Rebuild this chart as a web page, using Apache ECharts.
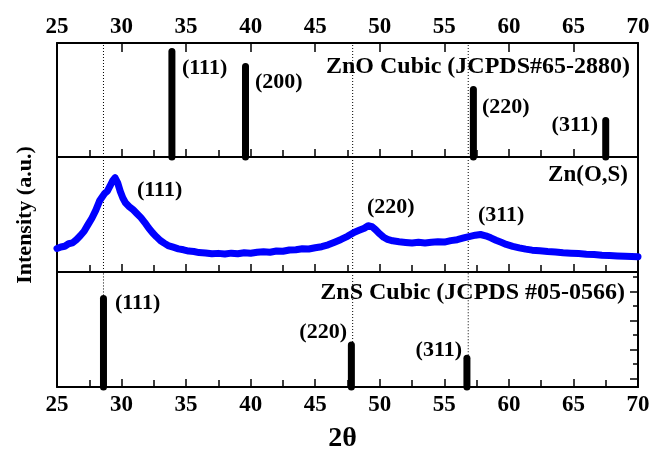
<!DOCTYPE html>
<html><head><meta charset="utf-8">
<script src="https://cdn.jsdelivr.net/npm/echarts/dist/echarts.min.js"></script>
<style>html,body{margin:0;padding:0;background:#fff}#c{width:653px;height:455px}</style>
</head><body><div id="c"></div>
<script>
// ---- data ----
const xMin = 25, xMax = 70, xStep = 5;
const znoPos = [33.9, 39.6, 57.25, 67.5];
const znoInt = [92.5, 79.4, 59.2, 32];
const znoHkl = ['(111)', '(200)', '(220)', '(311)'];
const znoTitle = 'ZnO Cubic (JCPDS#65-2880)';
const znsPos = [28.6, 47.8, 56.75];
const znsInt = [77, 36.5, 25];
const znsHkl = ['(111)', '(220)', '(311)'];
const znsTitle = 'ZnS Cubic (JCPDS #05-0566)';
const refLines = [28.6, 47.9, 56.85];
const sampleTitle = 'Zn(O,S)';
const sampleHkl = ['(111)', '(220)', '(311)'];
const theta = [25.0,25.3,25.6,25.9,26.2,26.5,26.8,27.1,27.4,27.7,28.0,28.3,28.5,28.7,28.9,29.1,29.3,29.5,29.7,29.9,30.1,30.3,30.6,30.9,31.2,31.5,31.8,32.1,32.4,32.7,33.0,33.3,33.6,34.0,34.4,34.8,35.2,35.6,36.0,36.5,37.0,37.5,38.0,38.5,39.0,39.5,40.0,40.5,41.0,41.5,42.0,42.5,43.0,43.5,44.0,44.5,45.0,45.5,46.0,46.5,47.0,47.5,48.0,48.4,48.8,49.1,49.4,49.7,50.0,50.3,50.6,51.0,51.5,52.0,52.5,53.0,53.5,54.0,54.5,55.0,55.5,56.0,56.5,57.0,57.4,57.8,58.2,58.6,59.0,59.4,59.8,60.3,60.8,61.3,61.8,62.4,63.0,63.6,64.2,64.8,65.4,66.0,66.6,67.2,67.8,68.4,69.0,69.5,70.0];
const intensity = [20.5,21.8,22.4,24.6,25.3,28.1,31.5,35.4,41.2,46.8,53.6,61.9,65.2,68.4,70.3,74.6,79.2,82.0,77.5,70.1,64.3,60.2,56.8,54.1,50.7,47.3,43.0,38.2,34.1,30.6,27.4,25.1,23.0,21.6,20.1,19.3,18.2,17.8,16.9,16.5,15.8,16.2,15.6,16.4,15.9,16.8,16.3,17.1,17.6,17.2,18.3,18.0,19.1,19.4,20.2,20.0,21.1,22.0,23.6,25.9,28.3,31.0,34.4,36.2,38.0,40.2,39.4,36.5,33.1,30.2,28.4,27.1,26.3,25.7,25.2,25.8,25.3,25.9,26.2,26.0,27.3,28.1,29.6,31.0,32.0,32.6,31.5,29.7,27.6,25.8,24.0,22.3,21.0,19.9,19.0,18.4,17.8,17.4,16.8,16.4,16.0,15.5,15.2,14.6,14.4,14.0,13.7,13.5,13.3];

// ---- layout / style ----
const FONT = '"Liberation Serif", "Times New Roman", serif';
const L = 57, R = 15;
const panels = [{top: 43, height: 114}, {top: 157, height: 115}, {top: 272, height: 115}];
const lineW = 2;
const annot = [
  // [text, x, y, align, size]
  [znoHkl[0], 182, 68, 'left', 22], [znoHkl[1], 255, 82, 'left', 22],
  [znoHkl[2], 482, 107, 'left', 22], [znoHkl[3], 598, 125, 'right', 22],
  [znoTitle, 630, 67, 'right', 24],
  [sampleHkl[0], 137, 190, 'left', 22], [sampleHkl[1], 367, 207, 'left', 22],
  [sampleHkl[2], 478, 215, 'left', 22], [sampleTitle, 628, 175, 'right', 23],
  [znsHkl[0], 115, 303, 'left', 22], [znsHkl[1], 347, 332, 'right', 22],
  [znsHkl[2], 462, 350, 'right', 22], [znsTitle, 625, 293, 'right', 24]
];

const axisLineStyle = {show: true, onZero: false, lineStyle: {color: '#000', width: lineW}};
function xBottom(gi, showLabels) {
  return {
    type: 'value', gridIndex: gi, position: 'bottom', min: xMin, max: xMax, interval: xStep,
    axisLine: axisLineStyle,
    axisTick: {show: true, inside: true, length: 8, lineStyle: {color: '#000', width: 1.5}},
    minorTick: {show: true, splitNumber: 2, length: 7, lineStyle: {color: '#000', width: 1.5}},
    splitLine: {show: false}, minorSplitLine: {show: false},
    axisLabel: {show: showLabels, margin: 7, color: '#000', fontFamily: FONT, fontWeight: 'bold', fontSize: 23}
  };
}
const xAxes = [
  xBottom(0, false),
  {type: 'value', gridIndex: 0, position: 'top', min: xMin, max: xMax, interval: xStep,
   axisLine: axisLineStyle,
   axisTick: {show: true, inside: true, length: 9, lineStyle: {color: '#000', width: 1.5}},
   splitLine: {show: false},
   axisLabel: {show: true, margin: 4, color: '#000', fontFamily: FONT, fontWeight: 'bold', fontSize: 23}},
  xBottom(1, false),
  Object.assign(xBottom(2, true), {name: '2θ', nameLocation: 'middle', nameGap: 38,
    nameTextStyle: {color: '#000', fontFamily: FONT, fontWeight: 'bold', fontSize: 28, padding: [0, 10, 0, 0]}}),
  {type: 'value', gridIndex: 3, min: xMin, max: xMax, show: false}
];
const yAxes = [];
[0, 1, 2].forEach(gi => {
  ['left', 'right'].forEach(pos => {
    yAxes.push({type: 'value', gridIndex: gi, position: pos, min: 0, max: 100,
      axisLine: axisLineStyle, axisTick: {show: false}, axisLabel: {show: false}, splitLine: {show: false}});
  });
});
yAxes.push({type: 'value', gridIndex: 3, position: 'right', min: 0, max: 3.68, interval: 1,
  axisLine: {show: false, onZero: false}, axisLabel: {show: false}, splitLine: {show: false},
  axisTick: {show: true, inside: true, length: 8, lineStyle: {color: '#000', width: 1.5}},
  minorTick: {show: true, splitNumber: 2, length: 5, lineStyle: {color: '#000', width: 1.5}}});

const series = [];
// dotted reference lines
[0, 1, 2].forEach(gi => {
  refLines.forEach((x, i) => {
    const y0 = gi === 2 ? znsInt[i] : 0;
    series.push({type: 'line', xAxisIndex: gi === 0 ? 0 : gi + 1, yAxisIndex: gi * 2,
      data: [[x, y0], [x, 100]], symbol: 'none', silent: true, animation: false,
      lineStyle: {color: '#000', width: 1, type: [1, 2]}});
  });
});
function sticks(pos, vals, xi, yi) {
  pos.forEach((x, i) => {
    series.push({type: 'line', xAxisIndex: xi, yAxisIndex: yi, data: [[x, 0], [x, vals[i]]],
      symbol: 'none', clip: false, silent: true, animation: false, z: 5,
      lineStyle: {color: '#000', width: 7, cap: 'round'}});
  });
}
sticks(znoPos, znoInt, 0, 0);
series.push({type: 'line', xAxisIndex: 2, yAxisIndex: 2,
  data: theta.map((t, i) => [t, intensity[i]]), symbol: 'none', animation: false, z: 5,
  lineStyle: {color: '#0000ff', width: 7, join: 'round', cap: 'round'}});
sticks(znsPos, znsInt, 3, 4);

const graphic = annot.map(a => ({type: 'text', x: a[1], y: a[2], z: 10,
  style: {text: a[0], textAlign: a[3], textVerticalAlign: 'middle', fill: '#000',
    font: 'bold ' + a[4] + 'px ' + FONT}}));
graphic.push({type: 'text', x: 25, y: 215, rotation: Math.PI / 2, z: 10,
  style: {text: 'Intensity (a.u.)', textAlign: 'center', textVerticalAlign: 'middle', fill: '#000',
    font: 'bold 22px ' + FONT}});

const chart = echarts.init(document.getElementById('c'), null, {renderer: 'canvas'});
chart.setOption({
  backgroundColor: '#fff',
  animation: false,
  grid: [
    {left: L, right: R, top: panels[0].top, height: panels[0].height},
    {left: L, right: R, top: panels[1].top, height: panels[1].height},
    {left: L, right: R, top: panels[2].top, height: panels[2].height},
    {left: L, right: R, top: panels[2].top, height: 106.3}
  ],
  xAxis: xAxes, yAxis: yAxes, series: series, graphic: graphic
});
</script></body></html>
